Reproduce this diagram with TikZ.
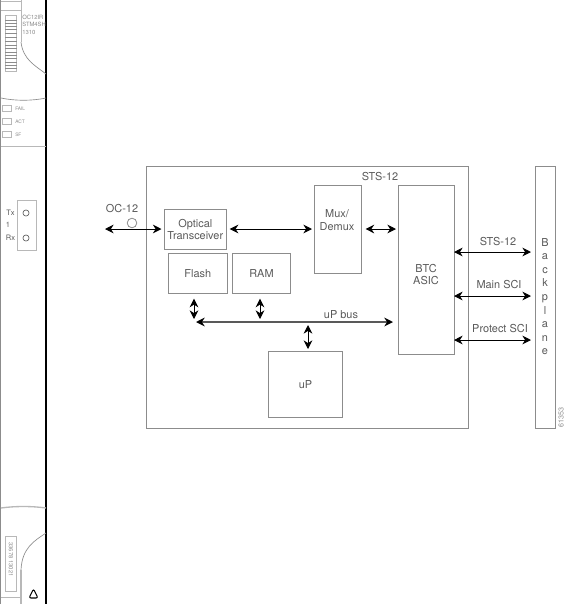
\documentclass[tikz,border=0pt]{standalone}
\usepackage{fontspec}
\setmainfont{TeX Gyre Heros}
\usepackage{tikz}
\usetikzlibrary{arrows.meta}
\definecolor{inkgray}{gray}{0.35}
\definecolor{boxgray}{gray}{0.55}
\definecolor{panelgray}{gray}{0.72}
\tikzset{
	blockbox/.style={draw=boxgray,line width=0.75pt,inner sep=0pt,anchor=north west,text=inkgray,font=\fontsize{8.2}{9.7}\selectfont,align=center},
	linkarrow/.style={draw=black,line width=0.75pt,{Stealth[length=6.5pt,width=6.5pt,color=black]}-{Stealth[length=6.5pt,width=6.5pt,color=black]}},
	linklabel/.style={text=inkgray,font=\fontsize{8.2}{9.7}\selectfont,inner sep=0pt},
	paneltext/.style={text=inkgray!70,font=\fontsize{3.6}{4.8}\selectfont,inner sep=0pt},
	panelline/.style={draw=panelgray,line width=0.6pt},
	panelbox/.style={draw=panelgray,line width=0.6pt,inner sep=0pt},
}
\begin{document}
\begin{tikzpicture}[x=0.75pt,y=-0.75pt]
	\useasboundingbox (0,0) rectangle (565,604); % same window as the reference
	% the card at the left
	\draw[boxgray,line width=1pt] (0.7,0) -- (0.7,604);
	\draw[black,line width=0.8pt] (46,0) -- (46,604);
	\draw[panelline] (1,1.5) -- (21,1.5);
	\draw[panelline] (1,10) -- (21,10);
	\draw[panelline] (21,0) -- (21,42);
	\draw[boxgray,line width=0.5pt] (21,42) .. controls (23,60) and (36,66) .. (46,74);
	\draw[boxgray,line width=0.5pt] (1,98) .. controls (15,101) and (32,101) .. (46,98);
	\draw[panelline,line width=1.2pt] (1,146.5) -- (46,146.5);
	\draw[panelline,line width=1pt] (1,508) .. controls (15,506) and (32,506) .. (46,508);
	\draw[boxgray,line width=0.5pt] (46,533) .. controls (34,541) and (22,548) .. (21,570);
	\draw[panelline,line width=0.9pt] (21,570) -- (21,604);
	\draw[panelline] (1,597) -- (21,597);
	% fibre label strip
	\node[panelbox,minimum width=8.6pt,minimum height=42pt,anchor=north west] (strip) at (5,15) {};
	\foreach \y in {20,23,26,29,33,37,41,45,48,52,55,58,62,65,68}
		\draw[boxgray,line width=0.35pt] (5,\y) -- (16.5,\y);
	\node[paneltext,anchor=north west,align=left,font=\fontsize{4.4}{5.4}\selectfont] (cardname) at (22,15) {OC12IR\\STM4SH\\1310};
	% leds
	\foreach \y/\t/\n in {108/FAIL/fail,121/ACT/act,134/SF/sf}{
		\node[panelbox,minimum width=7pt,minimum height=4.6pt] (led\n) at (7,\y) {};
		\node[paneltext,anchor=west] (lab\n) at (15,\y+1) {\t};
	}
	% optical ports
	\node[panelbox,minimum width=14pt,minimum height=37.5pt,anchor=north west] (portbox) at (17,200) {};
	\node[draw=inkgray,circle,line width=0.5pt,inner sep=0pt,minimum size=4.6pt] (txport) at (26,213) {};
	\node[draw=inkgray,circle,line width=0.5pt,inner sep=0pt,minimum size=4.6pt] (rxport) at (26,238) {};
	\node[linklabel,font=\fontsize{5.6}{7}\selectfont] (txlab) at (10.5,213) {Tx};
	\node[linklabel,font=\fontsize{5.6}{7}\selectfont] (onelab) at (8,225) {1};
	\node[linklabel,font=\fontsize{5.6}{7}\selectfont] (rxlab) at (10.5,238) {Rx};
	% bottom of the card
	\node[panelbox,line width=0.7pt,minimum width=8.6pt,minimum height=41pt,anchor=north west] (serial) at (5,536) {};
	\node[paneltext,rotate=-90,font=\fontsize{4.4}{5}\selectfont] (seriallab) at (10.8,559.5) {33678 13021};
	\draw[black,line width=0.8pt,rounded corners=1.5pt] (33.5,589) -- (38,598) -- (29,598) -- cycle;
	% blocks
	\node[blockbox,minimum width=241.5pt,minimum height=196.5pt] (card) at (146,166) {};
	\node[blockbox,minimum width=46.9pt,minimum height=30pt] (optical) at (163.5,209) {Optical\\Transceiver};
	\node[blockbox,minimum width=43.9pt,minimum height=30pt] (flash) at (168,253) {Flash};
	\node[blockbox,minimum width=43.5pt,minimum height=30pt] (ram) at (232,253) {RAM};
	\node[blockbox,minimum width=34.9pt,minimum height=66pt] (mux) at (314,185) {};
	\node[blockbox,minimum width=42pt,minimum height=126.8pt] (btc) at (398,185) {};
	\node[blockbox,minimum width=55.5pt,minimum height=49.5pt] (up) at (268,351) {uP};
	\node[blockbox,minimum width=15pt,minimum height=196.5pt] (backplane) at (535,166) {};
	\node[linklabel,align=center] (muxlab) at (337,220) {Mux/\\Demux};
	\node[linklabel,align=center] (btclab) at (426,274.5) {BTC\\ASIC};
	\node[linklabel,align=center,font=\fontsize{8.2}{10.2}\selectfont] (backplanelab) at (545,296.5) {B\\a\\c\\k\\p\\l\\a\\n\\e};
	% free ends
	\coordinate (ocend) at (105,229);
	\coordinate (busleft) at (196,322);
	\coordinate (busright) at (393,322);
	\coordinate (flashbus) at (194,319);
	\coordinate (rambus) at (260,319);
	\coordinate (upbus) at (308,325);
	\coordinate (stsport) at (454,252);
	\coordinate (mainport) at (454,296);
	\coordinate (protport) at (454,340);
	% links
	\draw[linkarrow,shorten >=1.5pt] (ocend) -- (optical.west |- ocend);
	\draw[linkarrow,shorten <=2pt,shorten >=1.5pt] (optical.east |- ocend) -- (mux.west |- ocend);
	\draw[linkarrow,shorten <=3pt,shorten >=1.5pt] (mux.east |- ocend) -- (btc.west |- ocend);
	\draw[linkarrow,shorten >=3pt] (stsport) -- (backplane.west |- stsport);
	\draw[linkarrow,shorten >=3pt] (mainport) -- (backplane.west |- mainport);
	\draw[linkarrow,shorten >=3pt] (protport) -- (backplane.west |- protport);
	\draw[linkarrow,shorten <=3.5pt] (flash.south -| flashbus) -- (flashbus);
	\draw[linkarrow,shorten <=3.5pt] (ram.south -| rambus) -- (rambus);
	\draw[linkarrow,shorten >=1.5pt] (upbus) -- (up.north -| upbus);
	\draw[linkarrow,draw=inkgray,line width=1.2pt] (busleft) -- (busright);
	% labels
	\node[linklabel] (oclab) at (122,209) {OC-12};
	\node[draw=boxgray,circle,line width=0.6pt,inner sep=0pt,minimum size=7.2pt] (ocport) at (132,223) {};
	\node[linklabel] (stslab) at (380,176.5) {STS-12};
	\node[linklabel] (buslab) at (341,315) {uP bus};
	\node[linklabel] (stsright) at (498,241.5) {STS-12};
	\node[linklabel] (mainlab) at (499,285) {Main SCI};
	\node[linklabel] (protlab) at (500,329) {Protect SCI};
	\node[paneltext,rotate=90,font=\fontsize{5.4}{6}\selectfont] (figlab) at (561,417) {61353};
\end{tikzpicture}
\end{document}
